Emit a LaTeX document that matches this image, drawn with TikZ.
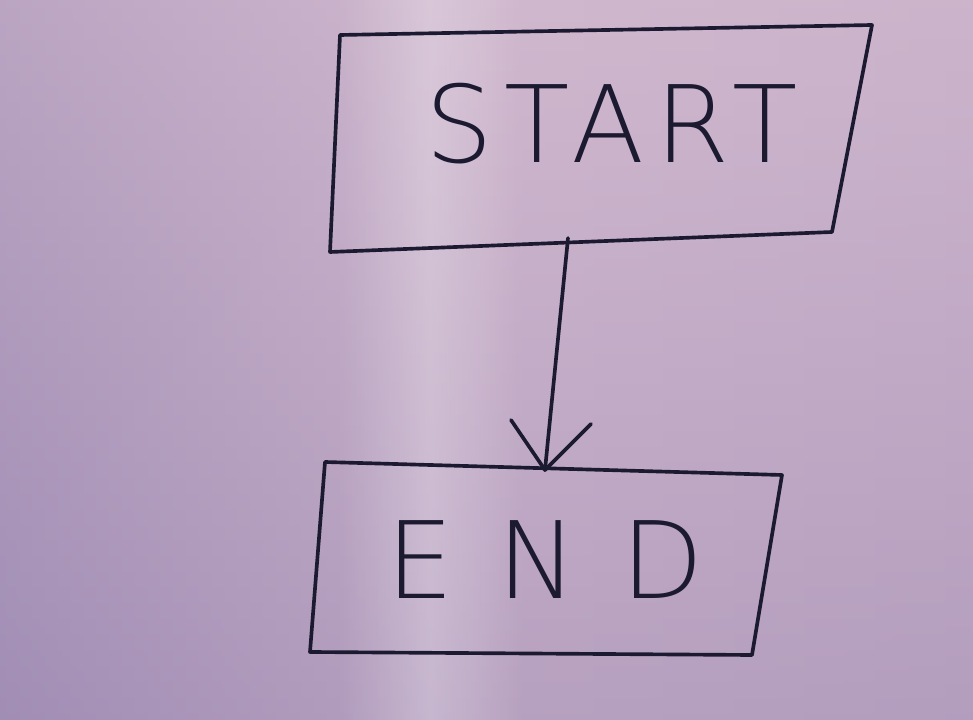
\documentclass[tikz,border=0pt]{standalone}
\usepackage{fontspec}
\setmainfont{Liberation Sans}
\IfFontExistsTF{DejaVu Sans ExtraLight}{\newfontfamily\handfont{DejaVu Sans ExtraLight}}{\newfontfamily\handfont{Liberation Sans}}
\usetikzlibrary{calc,fadings}
\definecolor{ink}{RGB}{28,26,48}
\definecolor{bgtop}{RGB}{208,184,206}
\definecolor{bgbot}{RGB}{158,138,178}
\definecolor{bgleft}{RGB}{165,146,184}
\tikzfading[name=bandfade, left color=transparent!100, right color=transparent!100, middle color=transparent!75]
\tikzset{
  pen/.style={draw=ink, line width=2.6pt, line join=round, line cap=round},
  hand/.style={text=ink, font=\handfont\fontsize{76}{84}\selectfont, inner sep=0pt},
}
\begin{document}
\begin{tikzpicture}[x=0.025cm,y=-0.025cm]
\useasboundingbox (0,0) rectangle (973,720);
% background
\shade[top color=bgtop, bottom color=bgbot] (0,0) rectangle (973,720);
\shade[left color=bgleft, right color=bgtop!85!bgbot, middle color=bgtop, opacity=0.5] (0,0) rectangle (973,720);
\fill[white, path fading=bandfade] (340,0) rectangle (520,720);
% boxes
\draw[pen] (340,35) -- (872,25) -- (832,232) -- (330,252) -- cycle;
\draw[pen] (325,462) -- (782,475) -- (752,655) -- (310,652) -- cycle;
% labels
\node[hand] (start) at (612,124) {\addfontfeature{LetterSpace=10}START};
\node[hand] (end) at (545,560) {E\hspace{1.1cm}N\hspace{1.1cm}D};
% connector
\coordinate (sb) at (568,238);
\coordinate (et) at (545,470);
\draw[pen] (sb) -- (et);
\coordinate (la) at (511,420);
\coordinate (ra) at (591,424);
\draw[pen] (la) -- (et) -- (ra);
\end{tikzpicture}
\end{document}
